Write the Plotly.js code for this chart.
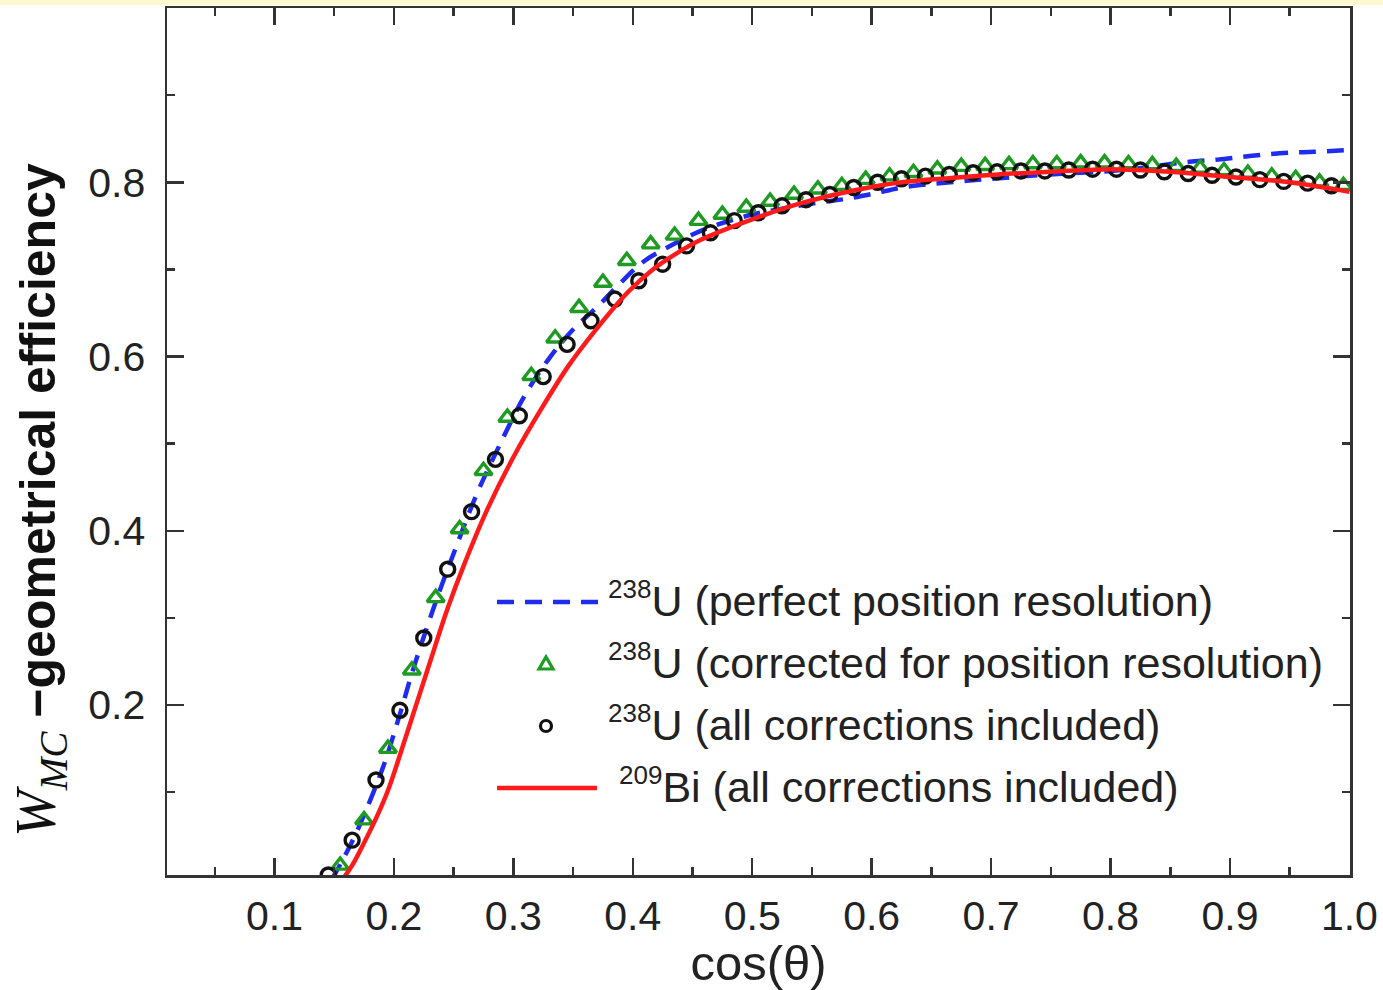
<!DOCTYPE html>
<html>
<head>
<meta charset="utf-8">
<script src="https://cdn.plot.ly/plotly-3.0.1.min.js"></script>
<style>
  html, body { margin: 0; padding: 0; background: #ffffff; overflow: hidden; }
  #strip { width: 1383px; height: 5px; background: #fcf9cf; }
  #chart { width: 1383px; height: 985px; }
</style>
</head>
<body>
<div id="strip"></div>
<div id="chart"></div>
<script>
// ---- data ----
const blueX = [0.148,0.157,0.168,0.179,0.192,0.204,0.217,0.238,0.250,0.269,0.288,0.309,0.330,0.350,0.371,0.390,0.410,0.430,0.450,0.470,0.500,0.530,0.557,0.579,0.602,0.625,0.649,0.674,0.700,0.750,0.800,0.830,0.850,0.870,0.890,0.910,0.930,0.950,0.970,1.000];
const blueY = [0.000,0.022,0.052,0.087,0.133,0.185,0.245,0.330,0.374,0.441,0.497,0.554,0.598,0.631,0.658,0.685,0.710,0.726,0.740,0.751,0.763,0.771,0.777,0.781,0.787,0.794,0.798,0.801,0.804,0.809,0.813,0.817,0.821,0.824,0.826,0.829,0.832,0.834,0.835,0.837];

const triX = [0.155,0.175,0.195,0.215,0.235,0.255,0.275,0.295,0.315,0.335,0.355,0.375,0.395,0.415,0.435,0.455,0.475,0.495,0.515,0.535,0.555,0.575,0.595,0.615,0.635,0.655,0.675,0.695,0.715,0.735,0.755,0.775,0.795,0.815,0.835,0.855,0.875,0.895,0.915,0.935,0.955,0.975,0.995];
const triY = [0.016,0.068,0.150,0.240,0.323,0.402,0.469,0.530,0.578,0.621,0.656,0.685,0.710,0.729,0.739,0.756,0.763,0.771,0.778,0.786,0.792,0.796,0.803,0.807,0.811,0.815,0.818,0.819,0.820,0.821,0.821,0.822,0.822,0.821,0.820,0.818,0.816,0.813,0.810,0.807,0.804,0.800,0.796];

const circX = [0.145,0.165,0.185,0.205,0.225,0.245,0.265,0.285,0.305,0.325,0.345,0.365,0.385,0.405,0.425,0.445,0.465,0.485,0.505,0.525,0.545,0.565,0.585,0.605,0.625,0.645,0.665,0.685,0.705,0.725,0.745,0.765,0.785,0.805,0.825,0.845,0.865,0.885,0.905,0.925,0.945,0.965,0.985];
const circY = [0.005,0.045,0.114,0.194,0.277,0.356,0.422,0.482,0.532,0.577,0.614,0.641,0.666,0.687,0.706,0.727,0.742,0.756,0.765,0.773,0.780,0.786,0.794,0.800,0.804,0.807,0.809,0.811,0.812,0.813,0.813,0.814,0.815,0.815,0.814,0.812,0.810,0.808,0.806,0.803,0.801,0.799,0.796];

const redX = [0.157,0.165,0.175,0.185,0.195,0.211,0.228,0.245,0.259,0.278,0.301,0.323,0.346,0.371,0.396,0.415,0.435,0.457,0.500,0.541,0.583,0.625,0.667,0.706,0.750,0.800,0.850,0.900,0.950,1.000];
const redY = [0.000,0.016,0.042,0.070,0.102,0.168,0.240,0.311,0.362,0.424,0.487,0.539,0.589,0.634,0.674,0.698,0.717,0.734,0.7575,0.776,0.790,0.800,0.805,0.809,0.812,0.815,0.812,0.806,0.800,0.789];

const seriesIso = ['238', '238', '238', '209'];
const seriesLabels = [
  'U (perfect position resolution)',
  'U (corrected for position resolution)',
  'U (all corrections included)',
  'Bi (all corrections included)'
];
const xTickVals = [0.1,0.2,0.3,0.4,0.5,0.6,0.7,0.8,0.9,1.0];
const xTickText = ['0.1','0.2','0.3','0.4','0.5','0.6','0.7','0.8','0.9','1.0'];
const yTickVals = [0.2,0.4,0.6,0.8];
const yTickText = ['0.2','0.4','0.6','0.8'];

// ---- styles ----
const BLUE = '#1f2cf0', GREEN = '#1f9a22', BLACK = '#111111', RED = '#ff1b1b';
const FONT = 'Liberation Sans, Arial, sans-serif';
const TXT = '#222222';

const seriesNames = seriesLabels.map((s, i) => '<sup><span style="font-size:26px">' + seriesIso[i] + '</span></sup>' + s);

const traces = [
  { x: blueX, y: blueY, mode: 'lines', line: { color: BLUE, width: 4.5, dash: '17px,11px', shape: 'spline', smoothing: 1 }, name: seriesNames[0], showlegend: false },
  { x: triX, y: triY, mode: 'markers', marker: { symbol: 'triangle-up-open', size: 15, color: GREEN, line: { width: 3.4, color: GREEN } }, name: seriesNames[1], showlegend: false },
  { x: circX, y: circY, mode: 'markers', marker: { symbol: 'circle-open', size: 14, color: BLACK, line: { width: 3.4, color: BLACK } }, name: seriesNames[2], showlegend: false },
  { x: redX, y: redY, mode: 'lines', line: { color: RED, width: 4.5, shape: 'spline', smoothing: 1 }, name: seriesNames[3], showlegend: false }
];

// plot box in pixels (within chart div): left 167, right 1350, top 3, bottom 870
const L = 167, R = 1350, T = 3, B = 870;
const W = R - L, H = B - T;
const px = v => (v - L) / W;          // page pixel x -> paper
const py = v => (B - (v - 5)) / H;    // page pixel y -> paper (strip is 5px)

const legendRows = [602, 664, 726, 788];
const shapes = [
  { type: 'line', xref: 'paper', yref: 'paper', x0: px(497), x1: px(600), y0: py(legendRows[0]), y1: py(legendRows[0]), line: { color: BLUE, width: 4.5, dash: '17px,11px' } },
  { type: 'path', xref: 'paper', yref: 'paper', xsizemode: 'pixel', ysizemode: 'pixel', xanchor: px(546), yanchor: py(legendRows[1]), path: 'M -7 -5 L 7 -5 L 0 7 Z', line: { color: GREEN, width: 3.2 } },
  { type: 'circle', xref: 'paper', yref: 'paper', xsizemode: 'pixel', ysizemode: 'pixel', xanchor: px(546), yanchor: py(legendRows[2]), x0: -5.5, x1: 5.5, y0: -5.5, y1: 5.5, line: { color: BLACK, width: 3.2 } },
  { type: 'line', xref: 'paper', yref: 'paper', x0: px(497), x1: px(597), y0: py(legendRows[3]), y1: py(legendRows[3]), line: { color: RED, width: 4.5 } }
];

const annotations = [
  { text: seriesNames[0], x: px(606), y: py(legendRows[0] - 3) },
  { text: seriesNames[1], x: px(606), y: py(legendRows[1] - 3) },
  { text: seriesNames[2], x: px(606), y: py(legendRows[2] - 3) },
  { text: seriesNames[3], x: px(617), y: py(legendRows[3] - 3) }
].map(a => Object.assign({ xref: 'paper', yref: 'paper', xanchor: 'left', yanchor: 'middle', showarrow: false, font: { family: FONT, size: 43, color: TXT } }, a));

annotations.push({
  xref: 'paper', yref: 'paper', x: px(40), y: py(500), xanchor: 'center', yanchor: 'middle',
  textangle: -90, showarrow: false,
  text: '<span style="font-family:Liberation Serif, Times New Roman, serif;font-size:56px"><i>W</i><sub><i>MC</i></sub></span> <b>−geometrical efficiency</b>',
  font: { family: FONT, size: 50, color: '#111111' }
});

const layout = {
  width: 1383, height: 985,
  margin: { l: L, r: 1383 - R, t: T, b: 985 - B },
  paper_bgcolor: '#ffffff', plot_bgcolor: '#ffffff',
  showlegend: false,
  xaxis: {
    range: [0.01, 1.0005], autorange: false,
    tickmode: 'array', tickvals: xTickVals, ticktext: xTickText,
    ticks: 'inside', ticklen: 17, tickwidth: 2.5, tickcolor: '#333',
    minor: { dtick: 0.05, tick0: 0, ticks: 'inside', ticklen: 8, tickwidth: 2.5, tickcolor: '#333' },
    showline: true, linecolor: '#333', linewidth: 2.5, mirror: 'ticks',
    showgrid: false, zeroline: false,
    tickfont: { family: FONT, size: 41, color: TXT },
    ticklabelstandoff: 3,
    title: { text: 'cos(θ)', font: { family: FONT, size: 49, color: TXT }, standoff: 8 }
  },
  yaxis: {
    range: [0.005, 1.0], autorange: false,
    tickmode: 'array', tickvals: yTickVals, ticktext: yTickText,
    ticks: 'inside', ticklen: 17, tickwidth: 2.5, tickcolor: '#333',
    minor: { dtick: 0.1, tick0: 0, ticks: 'inside', ticklen: 8, tickwidth: 2.5, tickcolor: '#333' },
    showline: true, linecolor: '#333', linewidth: 2.5, mirror: 'ticks',
    showgrid: false, zeroline: false,
    tickfont: { family: FONT, size: 41, color: TXT },
    ticklabelstandoff: 11
  },
  shapes: shapes,
  annotations: annotations
};

Plotly.newPlot('chart', traces, layout, { displayModeBar: false, staticPlot: true });
</script>
</body>
</html>
